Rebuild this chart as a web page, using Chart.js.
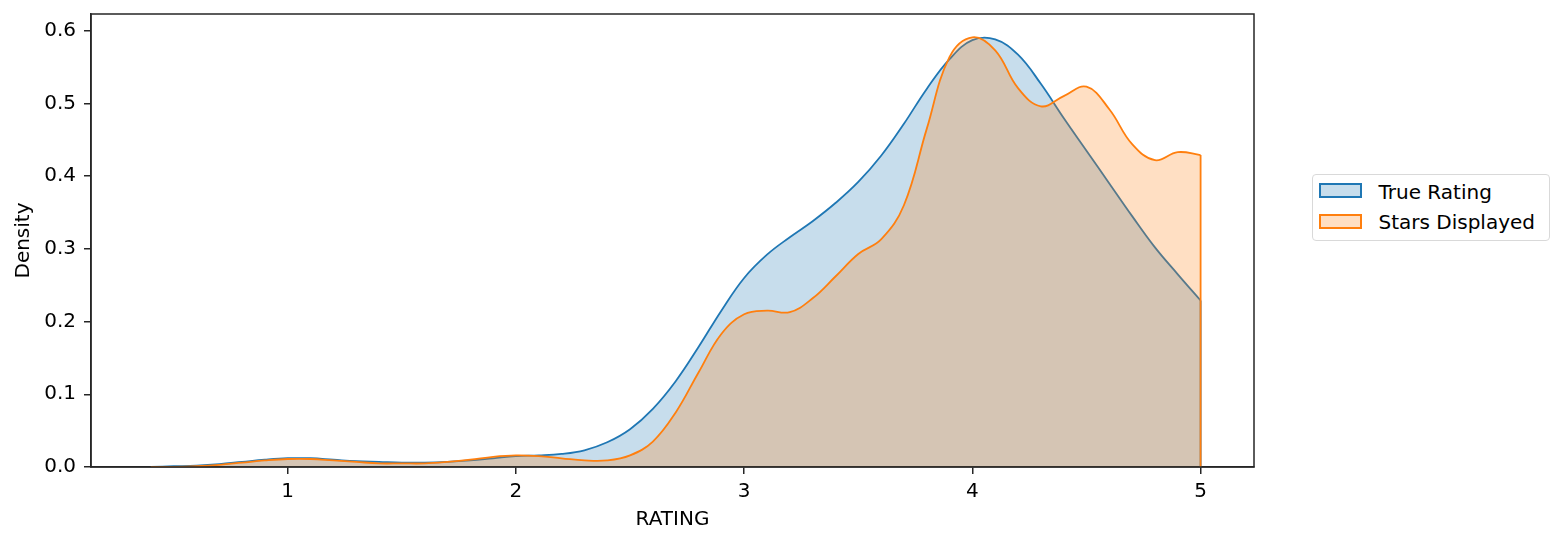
<!DOCTYPE html>
<html>
<head>
<meta charset="utf-8">
<script src="https://cdn.jsdelivr.net/npm/chart.js@4.4.1/dist/chart.umd.min.js"></script>
<style>
  html, body { margin:0; padding:0; background:#fff; }
  #wrap { position:relative; width:1565px; height:545px; }
  #legend { position:absolute; left:1312px; top:174px; width:238px; height:67px; box-sizing:border-box;
    border:1.5px solid #d9d9d9; border-radius:4px; background:#fff; font-family:"DejaVu Sans", sans-serif; font-size:20px; color:#000; }
  .patch { position:absolute; left:5.5px; width:43px; height:15.5px; box-sizing:border-box; border:2px solid; }
  .lab { position:absolute; left:65.5px; line-height:24px; white-space:nowrap; }
</style>
</head>
<body>
<div id="wrap">
  <canvas id="c"></canvas>
  <div id="legend"></div>
</div>
<script>
// ---- data ----
const ratingX = [0.4,0.5,0.6,0.7,0.8,0.9,1.0,1.1,1.2,1.3,1.4,1.5,1.6,1.7,1.8,1.9,2.0,2.1,2.2,2.3,2.4,2.5,2.6,2.7,2.8,2.9,3.0,3.1,3.2,3.3,3.4,3.5,3.6,3.7,3.8,3.9,4.0,4.1,4.2,4.3,4.4,4.5,4.6,4.7,4.8,4.9,5.0];
const trueRating = [0.000,0.001,0.002,0.004,0.007,0.010,0.012,0.012,0.010,0.008,0.007,0.006,0.006,0.007,0.009,0.012,0.015,0.016,0.018,0.023,0.034,0.052,0.080,0.118,0.165,0.215,0.260,0.292,0.316,0.338,0.363,0.392,0.428,0.472,0.520,0.561,0.587,0.588,0.567,0.527,0.480,0.435,0.390,0.345,0.302,0.265,0.229];
const starsDisplayed = [0.000,0.000,0.001,0.003,0.006,0.009,0.011,0.011,0.009,0.007,0.005,0.005,0.005,0.007,0.010,0.014,0.016,0.015,0.012,0.009,0.009,0.016,0.035,0.075,0.130,0.183,0.210,0.215,0.213,0.232,0.262,0.293,0.313,0.360,0.465,0.564,0.591,0.573,0.521,0.496,0.510,0.523,0.492,0.444,0.422,0.433,0.429];
const seriesNames = ["True Rating","Stars Displayed"];
const xTicks = [1,2,3,4,5];
const yTicks = [0.0,0.1,0.2,0.3,0.4,0.5,0.6];
const xLabel = "RATING";
const yLabel = "Density";

const blue = "#1f77b4", orange = "#ff7f0e";
const blueFill = "rgba(31,119,180,0.25)", orangeFill = "rgba(255,127,14,0.25)";
const FONT = "'DejaVu Sans', sans-serif";

const toPts = (xs, ys) => xs.map((x,i)=>({x:x, y:ys[i]}));
const lastX = ratingX[ratingX.length-1];
const edge = ys => [{x:lastX, y:ys[ys.length-1]},{x:lastX, y:0}];

const frame = {
  id:'frame',
  afterDatasetsDraw(chart){
    const {ctx, chartArea:a} = chart;
    ctx.save();
    ctx.strokeStyle = '#262626';
    ctx.lineWidth = 1.5;
    ctx.strokeRect(a.left, a.top, a.right - a.left, a.bottom - a.top);
    ctx.restore();
  }
};

new Chart(document.getElementById('c'), {
  type:'line',
  data:{
    datasets:[
      {label:seriesNames[0], data:toPts(ratingX,trueRating), borderColor:blue, backgroundColor:blueFill, fill:'origin', borderWidth:1.8, pointRadius:0, tension:0.4, order:4},
      {label:'edge0', data:edge(trueRating), borderColor:blue, borderWidth:1.8, pointRadius:0, tension:0, fill:false, order:3},
      {label:seriesNames[1], data:toPts(ratingX,starsDisplayed), borderColor:orange, backgroundColor:orangeFill, fill:'origin', borderWidth:1.8, pointRadius:0, tension:0.4, order:2},
      {label:'edge1', data:edge(starsDisplayed), borderColor:orange, borderWidth:1.8, pointRadius:0, tension:0, fill:false, order:1}
    ]
  },
  options:{
    responsive:true, maintainAspectRatio:false, animation:false,
    devicePixelRatio:1,
    layout:{padding:{left:0, right:311, top:14, bottom:0}},
    plugins:{legend:{display:false}, tooltip:{enabled:false}},
    scales:{
      x:{
        type:'linear', min:0.138, max:5.234,
        afterBuildTicks(s){ s.ticks = xTicks.map(v=>({value:v})); },
        afterFit(s){ s.height = 78; s.paddingLeft = 0; s.paddingRight = 0; },
        ticks:{ color:'#000', font:{family:FONT, size:20}, padding:6, maxRotation:0, callback:v=>String(v) },
        grid:{ drawOnChartArea:false, drawTicks:true, tickLength:7, color:'#262626', lineWidth:1.5 },
        border:{ display:true, color:'#262626', width:1.5 },
        title:{ display:true, text:xLabel, color:'#000', font:{family:FONT, size:20}, padding:{top:0, bottom:13} }
      },
      y:{
        type:'linear', min:0, max:0.623,
        afterBuildTicks(s){ s.ticks = yTicks.map(v=>({value:v})); },
        afterFit(s){ s.width = 91; s.paddingTop = 0; s.paddingBottom = 0; },
        ticks:{ color:'#000', font:{family:FONT, size:20}, padding:8, callback:v=>v.toFixed(1) },
        grid:{ drawOnChartArea:false, drawTicks:true, tickLength:7, color:'#262626', lineWidth:1.5 },
        border:{ display:true, color:'#262626', width:1.5 },
        title:{ display:true, text:yLabel, color:'#000', font:{family:FONT, size:20}, padding:{top:12, bottom:0} }
      }
    }
  },
  plugins:[frame]
});

// legend (HTML text)
const lg = document.getElementById('legend');
[[seriesNames[0], blue, blueFill, 7.5, 4.9],[seriesNames[1], orange, orangeFill, 38.5, 34.6]].forEach(([name, c, f, pt, lt])=>{
  const p = document.createElement('div'); p.className='patch';
  p.style.top = pt+'px'; p.style.borderColor = c; p.style.background = f;
  const t = document.createElement('div'); t.className='lab'; t.style.top = lt+'px'; t.textContent = name;
  lg.appendChild(p); lg.appendChild(t);
});
</script>
</body>
</html>
